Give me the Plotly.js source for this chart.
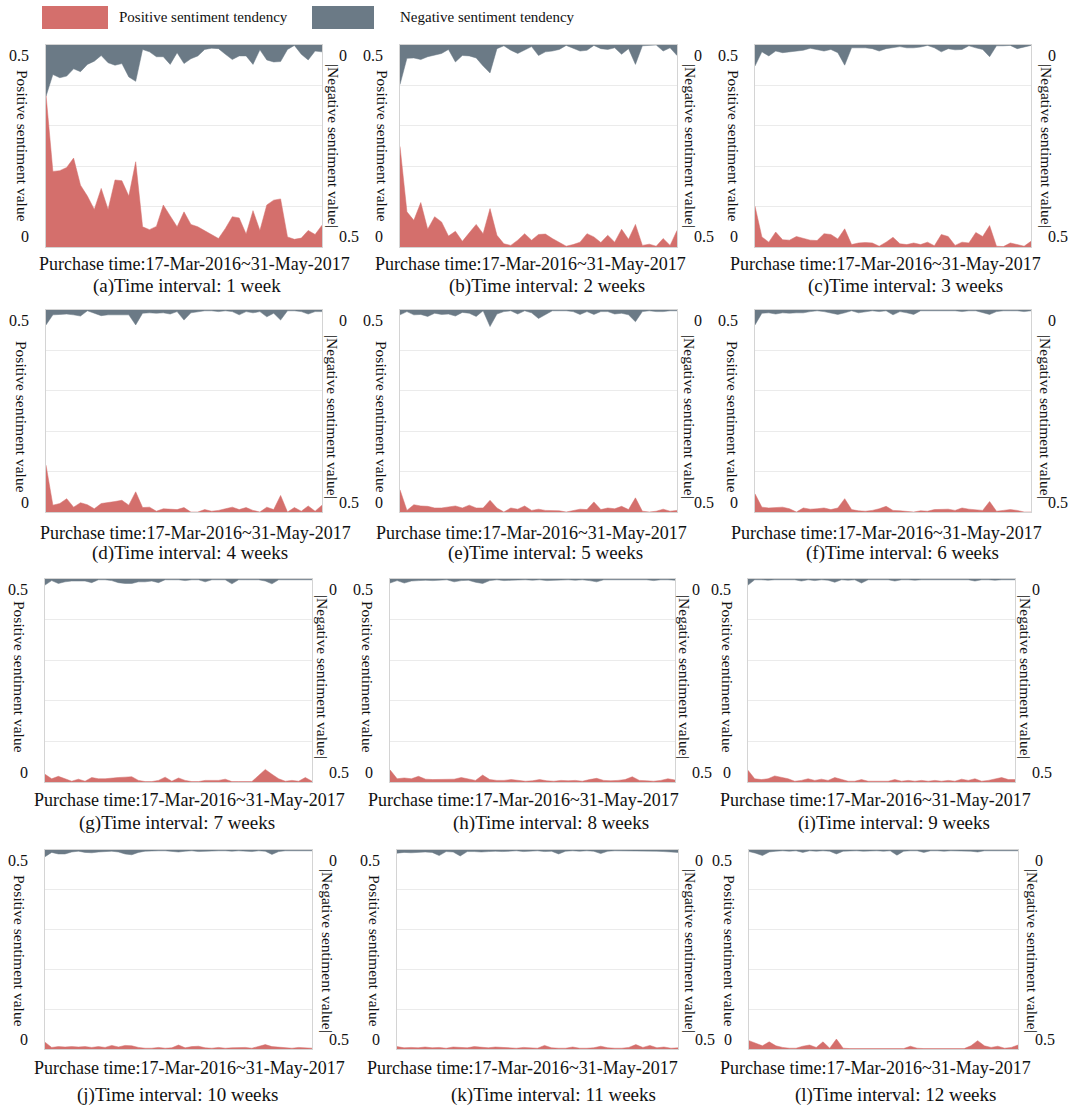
<!DOCTYPE html>
<html>
<head>
<meta charset="utf-8">
<script src="https://cdn.plot.ly/plotly-3.0.1.min.js"></script>
<style>html,body{margin:0;padding:0;background:#fff;}#chart{width:1078px;height:1108px;}</style>
</head>
<body>
<div id="chart"></div>
<script>
// ---------------- DATA ----------------
const periodIndex = [0,1,2,3,4,5,6,7,8,9,10,11,12,13,14,15,16,17,18,19,20,21,22,23,24,25,26,27,28,29,30,31,32,33,34,35,36,37,38,39,40];

const panelLabels = ["(a)Time interval: 1 week","(b)Time interval: 2 weeks","(c)Time interval: 3 weeks",
  "(d)Time interval: 4 weeks","(e)Time interval: 5 weeks","(f)Time interval: 6 weeks",
  "(g)Time interval: 7 weeks","(h)Time interval: 8 weeks","(i)Time interval: 9 weeks",
  "(j)Time interval: 10 weeks","(k)Time interval: 11 weeks","(l)Time interval: 12 weeks"];
const xCaption = "Purchase time:17-Mar-2016~31-May-2017";
const leftTitle = "Positive sentiment value";
const rightTitle = "|Negative sentiment value|";
const seriesNames = ["Positive sentiment tendency","Negative sentiment tendency"];

const posA = [0.377,0.187,0.189,0.197,0.220,0.153,0.126,0.093,0.145,0.093,0.166,0.164,0.126,0.211,0.050,0.043,0.051,0.104,0.077,0.050,0.087,0.056,0.050,0.040,0.029,0.021,0.046,0.075,0.072,0.032,0.090,0.041,0.104,0.116,0.119,0.025,0.019,0.022,0.041,0.031,0.054];
const negA = [0.127,0.073,0.081,0.077,0.059,0.066,0.048,0.040,0.026,0.044,0.050,0.046,0.079,0.090,0.011,0.017,0.029,0.029,0.048,0.019,0.046,0.034,0.027,0.011,0.008,0.009,0.023,0.036,0.027,0.027,0.048,0.012,0.037,0.042,0.041,0.011,0.001,0.023,0.037,0.015,0.017];
const posB = [0.249,0.087,0.066,0.110,0.044,0.075,0.062,0.027,0.039,0.014,0.035,0.056,0.033,0.095,0.029,0.008,0.004,0.017,0.033,0.017,0.031,0.032,0.021,0.011,0.002,0.006,0.012,0.033,0.025,0.011,0.029,0.012,0.044,0.019,0.056,0.004,0.007,0.002,0.021,0.004,0.041];
const negB = [0.098,0.033,0.032,0.036,0.029,0.025,0.021,0.011,0.042,0.026,0.027,0.032,0.052,0.069,0.009,0.002,0.013,0.021,0.013,0.004,0.026,0.017,0.015,0.011,0.001,0.009,0.015,0.013,0.001,0.009,0.011,0.007,0.023,0.009,0.048,0.002,0.001,0.000,0.015,0.007,0.026];
const posC = [0.101,0.025,0.012,0.037,0.018,0.017,0.026,0.021,0.017,0.016,0.033,0.031,0.020,0.045,0.006,0.010,0.011,0.010,0.002,0.012,0.024,0.008,0.006,0.010,0.006,0.012,0.003,0.031,0.026,0.004,0.012,0.010,0.036,0.026,0.053,0.002,0.001,0.010,0.006,0.002,0.014];
const negC = [0.052,0.017,0.027,0.015,0.019,0.017,0.015,0.013,0.008,0.012,0.015,0.011,0.019,0.050,0.007,0.007,0.007,0.009,0.015,0.009,0.007,0.004,0.007,0.007,0.005,0.001,0.007,0.017,0.009,0.012,0.011,0.002,0.007,0.011,0.029,0.002,0.002,0.001,0.009,0.005,0.001];
const posD = [0.116,0.017,0.021,0.033,0.012,0.023,0.018,0.008,0.021,0.023,0.026,0.029,0.017,0.050,0.011,0.012,0.002,0.008,0.007,0.006,0.011,0.000,0.000,0.006,0.002,0.004,0.008,0.012,0.006,0.011,0.004,0.000,0.012,0.006,0.041,0.000,0.011,0.002,0.015,0.002,0.017];
const negD = [0.037,0.012,0.011,0.010,0.012,0.015,0.002,0.008,0.014,0.012,0.012,0.011,0.012,0.037,0.008,0.007,0.008,0.007,0.010,0.004,0.025,0.007,0.004,0.002,0.002,0.004,0.002,0.004,0.012,0.004,0.007,0.004,0.017,0.008,0.025,0.002,0.002,0.004,0.010,0.004,0.004];
const posE = [0.055,0.004,0.018,0.015,0.014,0.010,0.010,0.012,0.015,0.010,0.017,0.010,0.010,0.029,0.010,0.000,0.010,0.007,0.015,0.004,0.007,0.004,0.004,0.003,0.000,0.003,0.007,0.006,0.025,0.006,0.010,0.008,0.014,0.006,0.035,0.002,0.000,0.002,0.007,0.002,0.004];
const negE = [0.012,0.004,0.012,0.011,0.016,0.008,0.011,0.010,0.015,0.006,0.008,0.016,0.002,0.041,0.010,0.004,0.002,0.010,0.002,0.007,0.021,0.012,0.002,0.002,0.002,0.004,0.011,0.004,0.011,0.004,0.004,0.010,0.008,0.012,0.029,0.004,0.002,0.004,0.004,0.002,0.002];
const posF = [0.045,0.012,0.010,0.011,0.012,0.008,0.000,0.010,0.007,0.008,0.010,0.006,0.010,0.033,0.006,0.003,0.002,0.004,0.008,0.014,0.004,0.003,0.002,0.000,0.003,0.002,0.006,0.006,0.007,0.004,0.010,0.007,0.006,0.004,0.026,0.002,0.004,0.006,0.004,0.000,0.000];
const negF = [0.037,0.008,0.007,0.010,0.007,0.008,0.007,0.007,0.004,0.002,0.004,0.007,0.011,0.007,0.002,0.007,0.004,0.002,0.004,0.002,0.012,0.004,0.007,0.011,0.002,0.002,0.002,0.002,0.002,0.002,0.004,0.002,0.002,0.007,0.011,0.004,0.002,0.002,0.002,0.004,0.002];
const posG = [0.019,0.008,0.014,0.008,0.002,0.007,0.002,0.011,0.008,0.008,0.010,0.011,0.012,0.013,0.004,0.001,0.001,0.004,0.012,0.002,0.010,0.004,0.001,0.001,0.004,0.004,0.004,0.007,0.001,0.001,0.001,0.001,0.016,0.031,0.019,0.008,0.002,0.004,0.002,0.011,0.002];
const negG = [0.015,0.004,0.011,0.007,0.005,0.005,0.005,0.009,0.002,0.002,0.004,0.009,0.011,0.011,0.007,0.007,0.005,0.009,0.002,0.002,0.002,0.004,0.002,0.002,0.007,0.002,0.002,0.002,0.012,0.002,0.002,0.002,0.002,0.005,0.012,0.002,0.002,0.002,0.002,0.002,0.002];
const posH = [0.030,0.008,0.010,0.008,0.014,0.007,0.006,0.006,0.006,0.007,0.011,0.007,0.004,0.017,0.006,0.004,0.004,0.006,0.004,0.002,0.003,0.006,0.003,0.002,0.004,0.003,0.004,0.002,0.006,0.009,0.004,0.003,0.004,0.006,0.013,0.004,0.003,0.002,0.004,0.008,0.005];
const negH = [0.010,0.004,0.010,0.005,0.004,0.003,0.004,0.003,0.002,0.007,0.004,0.003,0.008,0.011,0.004,0.002,0.004,0.003,0.002,0.002,0.003,0.002,0.004,0.003,0.002,0.002,0.003,0.002,0.004,0.007,0.002,0.002,0.003,0.002,0.003,0.002,0.002,0.004,0.002,0.002,0.003];
const posI = [0.029,0.008,0.006,0.008,0.015,0.011,0.008,0.002,0.004,0.008,0.004,0.007,0.004,0.011,0.007,0.002,0.002,0.006,0.002,0.002,0.002,0.002,0.006,0.002,0.004,0.002,0.004,0.002,0.004,0.002,0.004,0.002,0.007,0.004,0.008,0.002,0.004,0.007,0.011,0.006,0.006];
const negI = [0.015,0.002,0.002,0.003,0.002,0.002,0.003,0.002,0.005,0.002,0.004,0.002,0.003,0.008,0.002,0.003,0.002,0.010,0.002,0.002,0.003,0.002,0.005,0.002,0.002,0.003,0.002,0.002,0.002,0.003,0.002,0.002,0.003,0.002,0.005,0.002,0.002,0.003,0.002,0.002,0.002];
const posJ = [0.017,0.004,0.006,0.005,0.006,0.005,0.006,0.004,0.006,0.004,0.009,0.005,0.009,0.008,0.004,0.002,0.002,0.004,0.002,0.003,0.010,0.003,0.006,0.007,0.003,0.002,0.004,0.002,0.003,0.004,0.004,0.002,0.006,0.011,0.006,0.005,0.003,0.002,0.004,0.003,0.002];
const negJ = [0.017,0.006,0.010,0.010,0.005,0.003,0.006,0.007,0.005,0.004,0.003,0.005,0.010,0.012,0.006,0.003,0.002,0.002,0.002,0.004,0.005,0.003,0.002,0.004,0.003,0.002,0.002,0.002,0.003,0.002,0.003,0.004,0.002,0.003,0.011,0.004,0.002,0.002,0.002,0.002,0.002];
const posK = [0.006,0.003,0.004,0.003,0.005,0.003,0.004,0.002,0.005,0.004,0.003,0.006,0.004,0.003,0.005,0.004,0.003,0.002,0.004,0.003,0.002,0.009,0.003,0.002,0.002,0.005,0.002,0.002,0.003,0.007,0.003,0.002,0.002,0.004,0.011,0.004,0.009,0.003,0.005,0.002,0.003];
const negK = [0.008,0.006,0.007,0.006,0.005,0.006,0.014,0.004,0.005,0.015,0.004,0.004,0.005,0.004,0.003,0.004,0.003,0.002,0.004,0.003,0.002,0.004,0.003,0.010,0.003,0.002,0.003,0.002,0.003,0.009,0.003,0.002,0.002,0.003,0.002,0.002,0.002,0.003,0.004,0.005,0.006];
const posL = [0.021,0.015,0.008,0.018,0.008,0.004,0.002,0.002,0.007,0.010,0.004,0.018,0.002,0.025,0.002,0.001,0.001,0.001,0.001,0.001,0.001,0.001,0.001,0.001,0.007,0.002,0.001,0.001,0.001,0.001,0.001,0.001,0.001,0.008,0.021,0.008,0.004,0.007,0.002,0.004,0.010];
const negL = [0.004,0.008,0.014,0.005,0.003,0.002,0.003,0.002,0.006,0.002,0.003,0.002,0.003,0.010,0.003,0.002,0.002,0.003,0.002,0.002,0.003,0.002,0.013,0.003,0.002,0.002,0.006,0.002,0.002,0.003,0.002,0.002,0.002,0.003,0.005,0.002,0.002,0.002,0.002,0.002,0.002];

const positiveSeries = [posA,posB,posC,posD,posE,posF,posG,posH,posI,posJ,posK,posL];
const negativeSeries = [negA,negB,negC,negD,negE,negF,negG,negH,negI,negJ,negK,negL];

// ---------------- LAYOUT GEOMETRY (pixels) ----------------
const W = 1078, H = 1108;
const RED = '#d46f6c', GRAY = '#6b7a86';
const FONT = 'Liberation Serif, Times New Roman, serif';
const TXT = '#111111';
const geo = [
  {L:46, R:322, T:45, B:247, capX:194, capY:264, subX:187, subY:286, ltX:22, rtX:333, tY:146},
  {L:400,R:677, T:45, B:247, capX:530, capY:264, subX:547, subY:286, ltX:382, rtX:690, tY:146},
  {L:755,R:1031,T:45, B:247, capX:885, capY:264, subX:905, subY:286, ltX:733, rtX:1046,tY:146},
  {L:46, R:322, T:310,B:512, capX:195, capY:533, subX:190, subY:553, ltX:22, rtX:333, tY:417},
  {L:400,R:677, T:310,B:512, capX:531, capY:533, subX:545, subY:553, ltX:382, rtX:690, tY:417},
  {L:755,R:1031,T:310,B:512, capX:886, capY:533, subX:902, subY:553, ltX:733, rtX:1046,tY:417},
  {L:45, R:312, T:579,B:782, capX:189, capY:800, subX:177, subY:823, ltX:20, rtX:323, tY:677},
  {L:390,R:675, T:579,B:782, capX:523, capY:800, subX:551, subY:823, ltX:368, rtX:685, tY:677},
  {L:748,R:1015,T:579,B:782, capX:875, capY:800, subX:894, subY:823, ltX:728, rtX:1026,tY:677},
  {L:45, R:312, T:850,B:1049,capX:189, capY:1068,subX:177, subY:1095,ltX:20, rtX:328, tY:951},
  {L:397,R:678, T:850,B:1049,capX:522, capY:1068,subX:553, subY:1095,ltX:375, rtX:691, tY:951},
  {L:749,R:1018,T:850,B:1049,capX:875, capY:1068,subX:895, subY:1095,ltX:730, rtX:1033,tY:951}
];
const px = v => v / W;
const py = v => 1 - v / H;

const data = [];
const layout = {
  width: W, height: H,
  margin: {l:0, r:0, t:0, b:0},
  paper_bgcolor: '#ffffff', plot_bgcolor: '#ffffff',
  showlegend: false,
  font: {family: FONT, color: TXT},
  annotations: [], shapes: []
};

geo.forEach((g, i) => {
  const xn = i === 0 ? 'x' : 'x' + (i + 1);
  const yp = i === 0 ? 'y' : 'y' + (2 * i + 1);
  const yn = 'y' + (2 * i + 2);
  const xk = i === 0 ? 'xaxis' : 'xaxis' + (i + 1);
  const ypk = i === 0 ? 'yaxis' : 'yaxis' + (2 * i + 1);
  const ynk = 'yaxis' + (2 * i + 2);

  layout[xk] = {domain: [px(g.L), px(g.R)], anchor: yp, range: [0, 40], showgrid: false,
    zeroline: false, showticklabels: false, ticks: '', showline: true, mirror: true,
    linecolor: '#d4d4d4', linewidth: 1, fixedrange: true};
  layout[ypk] = {domain: [py(g.B), py(g.T)], anchor: xn, range: [0, 0.5],
    tickvals: [0.1, 0.2, 0.3, 0.4], showticklabels: false, ticks: '',
    showgrid: true, gridcolor: '#ebebeb', gridwidth: 1, zeroline: false,
    showline: true, mirror: true, linecolor: '#d4d4d4', linewidth: 1, fixedrange: true};
  layout[ynk] = {overlaying: yp, side: 'right', anchor: xn, range: [0.5, 0],
    showgrid: false, zeroline: false, showticklabels: false, ticks: '', showline: false, fixedrange: true};

  data.push({x: periodIndex, y: positiveSeries[i], xaxis: xn, yaxis: yp, type: 'scatter', mode: 'lines',
    name: seriesNames[0], fill: 'tozeroy', fillcolor: RED, line: {color: RED, width: 0.5}, hoverinfo: 'skip'});
  data.push({x: periodIndex, y: negativeSeries[i], xaxis: xn, yaxis: yn, type: 'scatter', mode: 'lines',
    name: seriesNames[1], fill: 'tozeroy', fillcolor: GRAY, line: {color: GRAY, width: 0.5}, hoverinfo: 'skip'});

  const A = layout.annotations;
  const tf = {family: FONT, size: 16, color: TXT};
  A.push({xref:'paper', yref:'paper', x: px(g.L - 15), y: py(g.T + 10), text: '0.5', showarrow: false, xanchor: 'right', yanchor: 'middle', font: tf});
  A.push({xref:'paper', yref:'paper', x: px(g.L - 15), y: py(g.B - 10), text: '0', showarrow: false, xanchor: 'right', yanchor: 'middle', font: tf});
  A.push({xref:'paper', yref:'paper', x: px(g.R + 15), y: py(g.T + 10), text: '0', showarrow: false, xanchor: 'left', yanchor: 'middle', font: tf});
  A.push({xref:'paper', yref:'paper', x: px(g.R + 15), y: py(g.B - 10), text: '0.5', showarrow: false, xanchor: 'left', yanchor: 'middle', font: tf});
  A.push({xref:'paper', yref:'paper', x: px(g.ltX), y: py(g.tY), text: leftTitle, textangle: 90, showarrow: false, xanchor: 'center', yanchor: 'middle', font: {family: FONT, size: 15.5, color: TXT}});
  A.push({xref:'paper', yref:'paper', x: px(g.rtX), y: py(g.tY), text: rightTitle, textangle: 90, showarrow: false, xanchor: 'center', yanchor: 'middle', font: {family: FONT, size: 15.5, color: TXT}});
  A.push({xref:'paper', yref:'paper', x: px(g.capX), y: py(g.capY), text: xCaption, showarrow: false, xanchor: 'center', yanchor: 'middle', font: {family: FONT, size: 18, color: TXT}});
  A.push({xref:'paper', yref:'paper', x: px(g.subX), y: py(g.subY), text: panelLabels[i], showarrow: false, xanchor: 'center', yanchor: 'middle', font: {family: FONT, size: 19, color: TXT}});
});

// legend (drawn as swatches + labels)
layout.shapes.push({type:'rect', xref:'paper', yref:'paper', x0: px(42), x1: px(108), y0: py(29), y1: py(6), fillcolor: RED, line: {width: 0}});
layout.shapes.push({type:'rect', xref:'paper', yref:'paper', x0: px(312), x1: px(374), y0: py(29), y1: py(6), fillcolor: GRAY, line: {width: 0}});
layout.annotations.push({xref:'paper', yref:'paper', x: px(117), y: py(17), text: seriesNames[0], showarrow: false, xanchor: 'left', yanchor: 'middle', font: {family: FONT, size: 15, color: TXT}});
layout.annotations.push({xref:'paper', yref:'paper', x: px(398), y: py(17), text: seriesNames[1], showarrow: false, xanchor: 'left', yanchor: 'middle', font: {family: FONT, size: 15, color: TXT}});

Plotly.newPlot('chart', data, layout, {displayModeBar: false, staticPlot: true});
</script>
</body>
</html>
